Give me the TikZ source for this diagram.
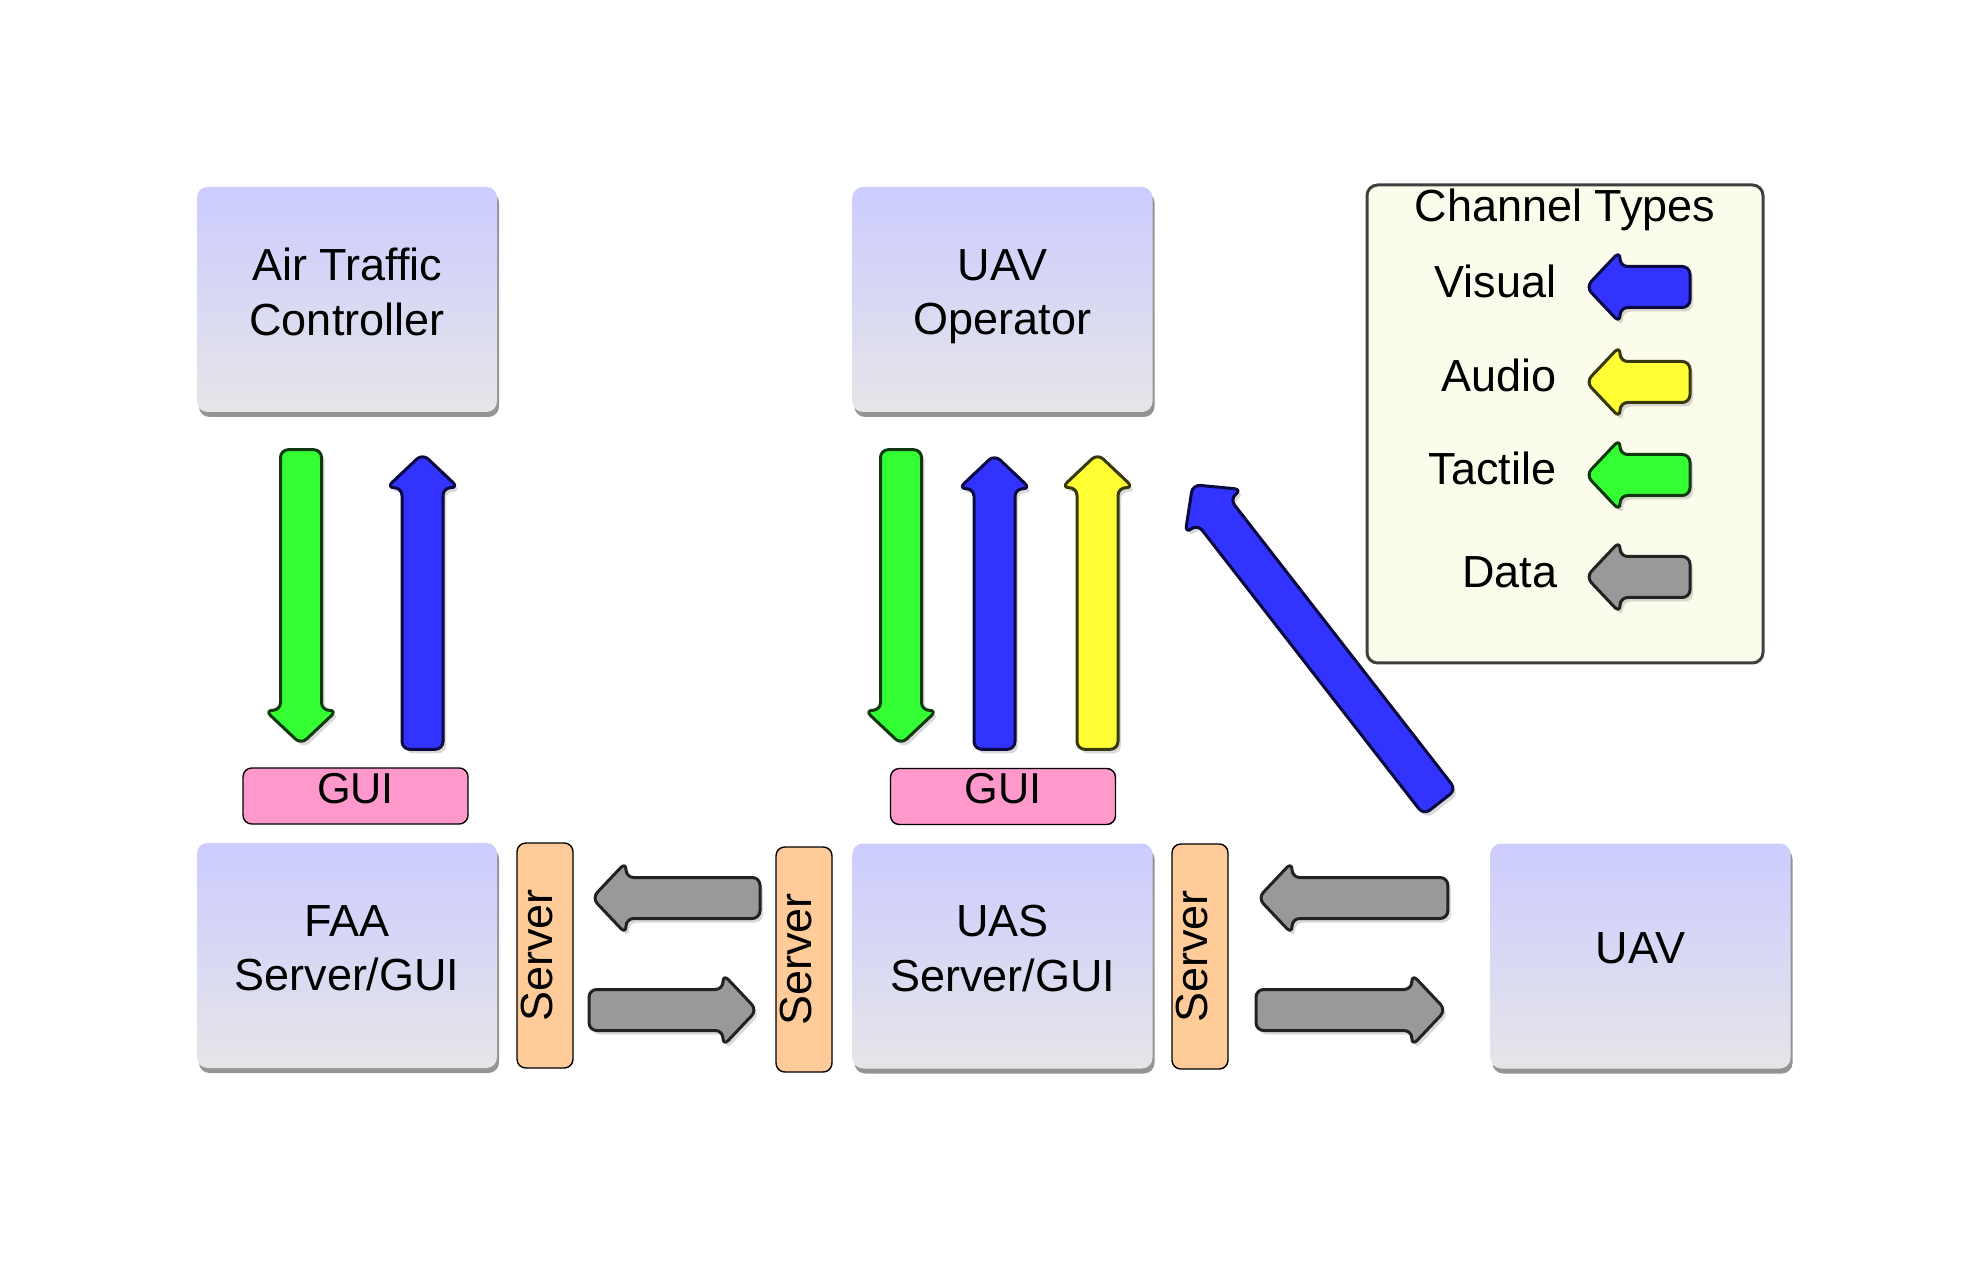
\documentclass[tikz,border=0pt]{standalone}
\usepackage{fontspec}
\setmainfont{Liberation Sans}
\usetikzlibrary{calc,shadows}

\definecolor{actortop}{RGB}{204,204,255}
\definecolor{actorbot}{RGB}{229,229,232}
\definecolor{guipink}{RGB}{255,153,204}
\definecolor{serverorange}{RGB}{255,204,153}
\definecolor{legendbg}{RGB}{252,252,236}
\definecolor{visualfill}{RGB}{51,51,255}
\definecolor{visualline}{RGB}{10,10,64}
\definecolor{audiofill}{RGB}{255,255,51}
\definecolor{audioline}{RGB}{56,56,10}
\definecolor{tactilefill}{RGB}{51,255,51}
\definecolor{tactileline}{RGB}{15,56,15}
\definecolor{datafill}{RGB}{153,153,153}
\definecolor{dataline}{RGB}{34,34,34}

\newcommand{\boxfont}{\fontsize{12.8}{15.6}\selectfont}
\newcommand{\guifont}{\fontsize{12.3}{14.8}\selectfont}
\newcommand{\shaftw}{2.05mm}
\newcommand{\headw}{3.6mm}
\newcommand{\headl}{3.4mm}

% fat outlined arrow, tail #2, tip #3
\newcommand{\fatarrow}[3]{%
  \draw[#1] ($(#2)!\shaftw!90:(#3)$)
    -- ($(#3)!\headl!(#2)!\shaftw!-90:(#2)$)
    -- ($(#3)!\headl!(#2)!\headw!-90:(#2)$)
    -- (#3)
    -- ($(#3)!\headl!(#2)!\headw!90:(#2)$)
    -- ($(#3)!\headl!(#2)!\shaftw!90:(#2)$)
    -- ($(#2)!\shaftw!-90:(#3)$) -- cycle;}

\tikzset{
  actor/.style={rounded corners=3pt, minimum width=3cm, minimum height=2.25cm,
    top color=actortop, bottom color=actorbot, align=center, text depth=1.5mm,
    drop shadow={shadow xshift=0.2mm, shadow yshift=-0.5mm, opacity=0.6, fill=black!70}},
  guibox/.style={draw, rounded corners=2.5pt, fill=guipink, minimum width=2.25cm,
    minimum height=5.6mm, inner sep=0pt, text depth=1.6mm, font=\guifont},
  serverbox/.style={draw, rounded corners=2.5pt, fill=serverorange, rotate=90,
    minimum width=2.25cm, minimum height=5.6mm, inner sep=0pt, text depth=1.6mm},
  legendbox/.style={draw=black!75, line width=0.3mm, rounded corners=3pt,
    fill=legendbg, minimum width=3.96cm, minimum height=4.78cm},
  chan/.style={line width=0.3mm, rounded corners=2.2pt, line join=round,
    drop shadow={shadow xshift=0.3mm, shadow yshift=-0.4mm, opacity=0.3}},
  visualarrow/.style={chan, fill=visualfill, draw=visualline},
  audioarrow/.style={chan, fill=audiofill, draw=audioline},
  tactilearrow/.style={chan, fill=tactilefill, draw=tactileline},
  dataarrow/.style={chan, fill=datafill, draw=dataline},
}

\begin{document}
\begin{tikzpicture}[x=0.1mm, y=-0.1mm, font=\boxfont]
  \useasboundingbox (0,0) rectangle (1976,1267);

  % people
  \node (atc) [actor] at (347,299.5) {Air Traffic\\Controller};
  \node (op) [actor] at (1002.5,299.5) {UAV\\Operator};

  % machines
  \node (faa) [actor] at (347,955.5) {FAA\\Server/GUI};
  \node (uas) [actor] at (1002.5,956) {UAS\\Server/GUI};
  \node (uav) [actor] at (1640.5,956) {UAV};
  \node (gui1) [guibox] at (355.5,796) {GUI};
  \node (gui2) [guibox] at (1003,796.5) {GUI};
  \node (srv1) [serverbox] at (545,955.5) {Server};
  \node (srv2) [serverbox] at (804,959.5) {Server};
  \node (srv3) [serverbox] at (1200,956.5) {Server};

  % human channels
  \coordinate (atcdn-tail) at ($(atc.south)+(-46,37)$);
  \coordinate (atcdn-tip) at ($(gui1.north)+(-54.5,-23)$);
  \coordinate (atcup-tail) at ($(gui1.north)+(67,-18)$);
  \coordinate (atcup-tip) at ($(atc.south)+(75.5,41)$);
  \fatarrow{tactilearrow}{atcdn-tail}{atcdn-tip}
  \fatarrow{visualarrow}{atcup-tail}{atcup-tip}

  \coordinate (opdn-tail) at ($(op.south)+(-101.5,37)$);
  \coordinate (opdn-tip) at ($(gui2.north)+(-102,-23.5)$);
  \coordinate (opvis-tail) at ($(gui2.north)+(-8.5,-18.5)$);
  \coordinate (opvis-tip) at ($(op.south)+(-8,42)$);
  \coordinate (opaud-tail) at ($(gui2.north)+(94.5,-18.5)$);
  \coordinate (opaud-tip) at ($(op.south)+(95,41)$);
  \coordinate (uavvis-tail) at ($(uav.north west)+(-50,-40.5)$);
  \coordinate (uavvis-tip) at ($(op.south east)+(39.5,72)$);
  \fatarrow{tactilearrow}{opdn-tail}{opdn-tip}
  \fatarrow{visualarrow}{opvis-tail}{opvis-tip}
  \fatarrow{audioarrow}{opaud-tail}{opaud-tip}
  \fatarrow{visualarrow}{uavvis-tail}{uavvis-tip}

  % data links
  \coordinate (d1-tail) at ($(srv2)+(-44,-61.5)$);
  \coordinate (d1-tip) at ($(srv1)+(47,-57.5)$);
  \coordinate (d2-tail) at ($(srv1)+(44,54.5)$);
  \coordinate (d2-tip) at ($(srv2)+(-47,50.5)$);
  \coordinate (d3-tail) at ($(uav.west)+(-42,-58)$);
  \coordinate (d3-tip) at ($(srv3)+(58,-58.5)$);
  \coordinate (d4-tail) at ($(srv3)+(56,53.5)$);
  \coordinate (d4-tip) at ($(uav.west)+(-44,54)$);
  \fatarrow{dataarrow}{d1-tail}{d1-tip}
  \fatarrow{dataarrow}{d2-tail}{d2-tip}
  \fatarrow{dataarrow}{d3-tail}{d3-tip}
  \fatarrow{dataarrow}{d4-tail}{d4-tip}

  % legend
  \node (legend) [legendbox] at (1565,424) {};
  \node (legtitle) [anchor=base] at (1565,222) {Channel Types};
  \node (legvisual) [anchor=base east, inner sep=0pt] at (1557,298) {Visual};
  \node (legaudio) [anchor=base east, inner sep=0pt] at (1557,392) {Audio};
  \node (legtactile) [anchor=base east, inner sep=0pt] at (1557,485) {Tactile};
  \node (legdata) [anchor=base east, inner sep=0pt] at (1558,588) {Data};
  \coordinate (lv-tail) at ($(legvisual.base east)+(133,-11)$);
  \coordinate (lv-tip) at ($(legvisual.base east)+(29,-11)$);
  \coordinate (la-tail) at ($(legaudio.base east)+(133,-10)$);
  \coordinate (la-tip) at ($(legaudio.base east)+(29,-10)$);
  \coordinate (lt-tail) at ($(legtactile.base east)+(133,-10)$);
  \coordinate (lt-tip) at ($(legtactile.base east)+(29,-10)$);
  \coordinate (ld-tail) at ($(legdata.base east)+(132,-11)$);
  \coordinate (ld-tip) at ($(legdata.base east)+(28,-11)$);
  \fatarrow{visualarrow}{lv-tail}{lv-tip}
  \fatarrow{audioarrow}{la-tail}{la-tip}
  \fatarrow{tactilearrow}{lt-tail}{lt-tip}
  \fatarrow{dataarrow}{ld-tail}{ld-tip}
\end{tikzpicture}
\end{document}
